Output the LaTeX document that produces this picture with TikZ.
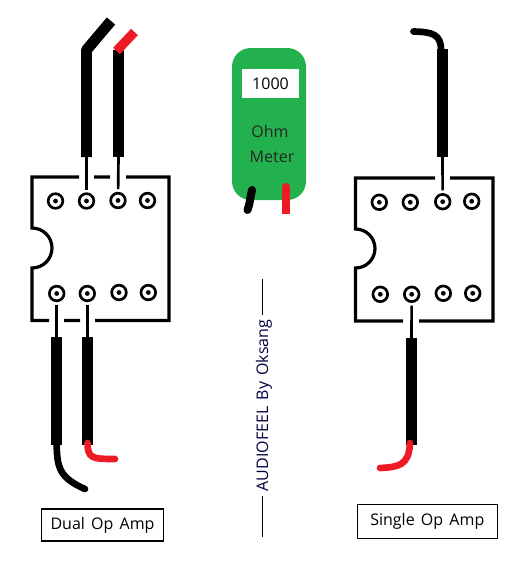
\documentclass[tikz,border=0pt]{standalone}
\usepackage{fontspec}
\setmainfont{Open Sans}[WordSpace=1.5]
\usetikzlibrary{positioning}
\definecolor{meterGreen}{HTML}{22B14C}
\definecolor{leadRed}{HTML}{ED1C24}
\begin{document}
\begin{tikzpicture}[
  x=.75pt, y=-.75pt,
  pad/.style={circle, draw=black, line width=2pt, fill=white, minimum size=11pt,
              inner sep=0pt, outer sep=0pt,
              path picture={\fill[black] (path picture bounding box.center) circle (2.4);}},
  outline/.style={line width=2.4pt, black, line join=miter},
  pin/.style={line width=2pt, black},
  jacket/.style={line width=8.2pt, black},
  tail/.style={line width=5pt, black, line cap=round},
  redtail/.style={tail, leadRed},
  tag/.style={draw=black, line width=.8pt, inner sep=0pt, align=center,
              font=\fontsize{12}{14}\selectfont},
  rule/.style={line width=.8pt, black},
  meterbody/.style={fill=meterGreen, rounded corners=14pt, minimum width=55.5pt,
                    minimum height=114pt, inner sep=0pt},
  readout/.style={fill=white, minimum width=42.75pt, minimum height=21.75pt, inner sep=0pt,
                  font=\fontsize{12}{14}\selectfont},
  legend/.style={text=black!85, font=\fontsize{12}{14}\selectfont}
]
\useasboundingbox (0,0) rectangle (531,561);

\draw[outline] (79,177) -- (32,177) -- (32,228) arc (-90:90:20) -- (32,320.5) -- (49,320.5)
  (64,320.5) -- (80,320.5) (95,320.5) -- (169,320.5) -- (169,177) -- (126,177) (110,177) -- (94,177);
\node[pad] (la) at (55.5,201) {};
\node[pad] (lb) at (86.5,201) {};
\node[pad] (lc) at (118,200.5) {};
\node[pad] (ld) at (147.5,200.5) {};
\node[pad] (le) at (56.7,293.5) {};
\node[pad] (lf) at (87.3,293.5) {};
\node[pad] (lg) at (119,292.5) {};
\node[pad] (lh) at (148.3,292.5) {};

\coordinate (lbEnd) at (86.5,157);
\coordinate (lbBend) at (86.5,50);
\coordinate (lcEnd) at (118.5,157);
\coordinate (lcBend) at (118.5,50);
\draw[pin, shorten >=3pt] (lbEnd) -- (lb);
\draw[pin, shorten >=3pt] (lcEnd) -- (lc);
\draw[line width=8.2pt, line join=bevel] (111,21) -- (lbBend) -- (lbEnd);
\draw[jacket] (lcBend) -- (lcEnd);
\draw[line width=7pt, leadRed] (134.5,32) -- (116.5,51);

\coordinate (leEnd) at (56.7,337);
\coordinate (leBend) at (56.7,445);
\coordinate (lfEnd) at (87.3,337);
\coordinate (lfBend) at (87.3,445);
\draw[pin, shorten >=3pt] (leEnd) -- (le);
\draw[pin, shorten >=3pt] (lfEnd) -- (lf);
\draw[jacket] (leEnd) -- (leBend);
\draw[jacket] (lfEnd) -- (lfBend);
\draw[tail] (leBend) .. controls (57,468) and (60,478) .. (85,489);
\draw[redtail] (87.5,443) .. controls (88,458) and (91,459) .. (115,459);

\node[tag, minimum width=91.5pt, minimum height=24pt] (dual) at (102.5,525) {Dual Op Amp};

\node[meterbody] (meter) at (269,124) {};
\node[readout] (display) at (270.5,83.5) {1000};
\node[legend] (ohm) at (270,131) {Ohm};
\node[legend] (unit) at (272,157) {Meter};
\draw[line width=6pt, black, line cap=round] (252,190) .. controls (250,198) and (250,204) .. (247.5,210);
\draw[line width=6pt, leadRed] (286,187) -- (286,214);
\fill[leadRed] (286,187) circle (4);

\node[rotate=90, inner sep=3pt, text=black!75!blue, font=\fontsize{12}{14}\selectfont] (credit) at (264,405.5) {AUDIOFEEL By Oksang};
\coordinate (ruleTop) at (262.3,279);
\coordinate (ruleBottom) at (262.3,537);
\draw[rule] (ruleTop) -- (ruleTop|-credit.east);
\draw[rule] (ruleBottom) -- (ruleBottom|-credit.west);

\draw[outline] (435,178) -- (355.5,178) -- (355.5,229) arc (-90:90:19.5) -- (355.5,321) -- (403,321)
  (419,321) -- (493,321) -- (493,178) -- (450,178);
\node[pad] (ra) at (379.3,202.3) {};
\node[pad] (rb) at (410.3,202.3) {};
\node[pad] (rc) at (442.7,201.7) {};
\node[pad] (rd) at (471.7,201.3) {};
\node[pad] (re) at (380.3,294.3) {};
\node[pad] (rf) at (411.7,294.3) {};
\node[pad] (rg) at (443.3,293.3) {};
\node[pad] (rh) at (472.7,293.3) {};

\coordinate (rcEnd) at (442.5,157);
\coordinate (rcBend) at (442.5,49);
\coordinate (rfEnd) at (411.5,338);
\coordinate (rfBend) at (411.5,445);
\draw[pin, shorten >=3pt] (rcEnd) -- (rc);
\draw[pin, shorten >=3pt] (rfEnd) -- (rf);
\draw[jacket] (rcBend) -- (rcEnd);
\draw[jacket] (rfEnd) -- (rfBend);
\draw[tail] (441,50) .. controls (441,34) and (432,32) .. (413.5,31.5);
\draw[redtail] (410,443) .. controls (409,466) and (398,467) .. (380,468);

\node[tag, minimum width=105pt, minimum height=25.5pt] (single) at (427.3,521.3) {Single Op Amp};
\end{tikzpicture}
\end{document}
